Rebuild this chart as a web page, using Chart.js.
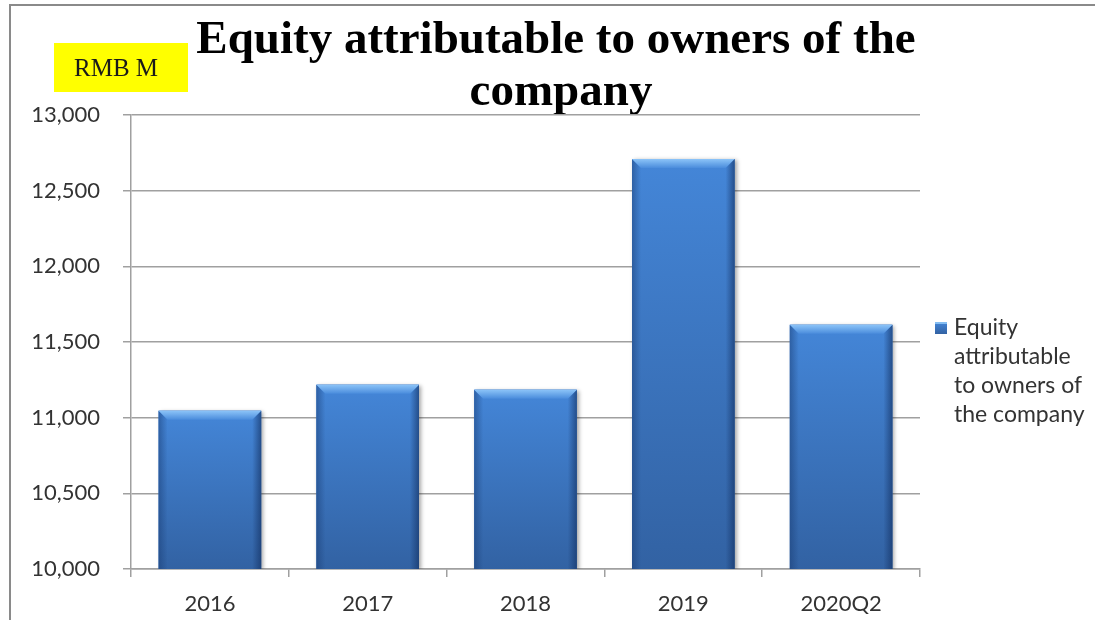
<!DOCTYPE html>
<html lang="en">
<head>
    <meta charset="UTF-8" />
    <title>Equity attributable to owners of the company</title>
    <script src="https://cdn.jsdelivr.net/npm/chart.js"></script>
    <style>
        html, body {
            margin: 0;
            padding: 0;
            background: #fff;
        }

        #wrap {
            width: 1095px;
            height: 620px;
        }
    </style>
</head>
<body>

    <div id="wrap">
        <canvas id="equityChart" width="1095" height="620"></canvas>
    </div>

    <script>
        // chart data
        const years = ['2016', '2017', '2018', '2019', '2020Q2'];
        const equity = [11046, 11218, 11185, 12709, 11614];
        const seriesName = 'Equity attributable to owners of the company';
        const titleLines = ['Equity attributable to owners of the', 'company'];
        const legendLines = ['Equity', 'attributable', 'to owners of', 'the company'];
        const unitLabel = 'RMB M';

        const labelFont = 'Lato, "Open Sans", sans-serif';

        // frame, title and unit badge
        const decorPlugin = {
            id: 'decor',
            beforeDraw(chart) {
                const ctx = chart.ctx;
                ctx.save();
                ctx.fillStyle = '#fff';
                ctx.fillRect(0, 0, chart.width, chart.height);

                ctx.strokeStyle = '#8a8a8a';
                ctx.lineWidth = 2;
                ctx.beginPath();
                ctx.moveTo(10, chart.height);
                ctx.lineTo(10, 5);
                ctx.lineTo(chart.width, 5);
                ctx.stroke();

                // unit badge
                ctx.fillStyle = '#ffff00';
                ctx.fillRect(54, 43, 134, 49);
                ctx.fillStyle = '#1a1a1a';
                ctx.font = '25px "Liberation Serif", "Times New Roman", serif';
                ctx.textAlign = 'center';
                ctx.textBaseline = 'alphabetic';
                ctx.fillText(unitLabel, 116, 76);

                // title
                ctx.fillStyle = '#000';
                ctx.font = 'bold 47px "Liberation Serif", "Times New Roman", serif';
                ctx.fillText(titleLines[0], 556, 53);
                ctx.fillText(titleLines[1], 561, 105);
                ctx.restore();
            }
        };

        function barFill(ctx, top, bottom) {
            const g = ctx.createLinearGradient(0, top, 0, bottom);
            g.addColorStop(0, '#4486d8');
            g.addColorStop(1, '#3262a3');
            return g;
        }

        // bevelled bar look, painted over each bar element
        const bevelPlugin = {
            id: 'bevel',
            afterDatasetsDraw(chart) {
                const ctx = chart.ctx;
                const area = chart.chartArea;
                const meta = chart.getDatasetMeta(0);
                meta.data.forEach(bar => {
                    const p = bar.getProps(['x', 'y', 'base', 'width'], true);
                    const l = p.x - p.width / 2;
                    const r = p.x + p.width / 2;
                    const t = Math.max(Math.min(p.y, p.base), area.top);
                    const b = Math.min(Math.max(p.y, p.base), area.bottom);
                    const w = r - l;
                    const h = b - t;
                    const bv = Math.min(9, h / 3);

                    ctx.save();
                    ctx.beginPath();
                    ctx.rect(area.left, area.top - 2, area.right - area.left, area.bottom - area.top + 2);
                    ctx.clip();

                    ctx.save();
                    ctx.shadowColor = 'rgba(0,0,0,0.35)';
                    ctx.shadowBlur = 4;
                    ctx.shadowOffsetX = 2;
                    ctx.shadowOffsetY = 1;
                    ctx.fillStyle = barFill(ctx, t, b);
                    ctx.fillRect(l, t, w, h);
                    ctx.restore();

                    // left edge
                    let g = ctx.createLinearGradient(l, 0, l + bv, 0);
                    g.addColorStop(0, 'rgba(25,60,115,0.5)');
                    g.addColorStop(1, 'rgba(25,60,115,0)');
                    ctx.fillStyle = g;
                    ctx.beginPath();
                    ctx.moveTo(l, t);
                    ctx.lineTo(l + bv, t + bv);
                    ctx.lineTo(l + bv, b);
                    ctx.lineTo(l, b);
                    ctx.closePath();
                    ctx.fill();

                    // right edge
                    g = ctx.createLinearGradient(r, 0, r - bv, 0);
                    g.addColorStop(0, 'rgba(20,50,100,0.65)');
                    g.addColorStop(1, 'rgba(20,50,100,0)');
                    ctx.fillStyle = g;
                    ctx.beginPath();
                    ctx.moveTo(r, t);
                    ctx.lineTo(r - bv, t + bv);
                    ctx.lineTo(r - bv, b);
                    ctx.lineTo(r, b);
                    ctx.closePath();
                    ctx.fill();

                    // top highlight
                    g = ctx.createLinearGradient(0, t, 0, t + bv);
                    g.addColorStop(0, '#8cc4f8');
                    g.addColorStop(1, '#4a8cdc');
                    ctx.fillStyle = g;
                    ctx.beginPath();
                    ctx.moveTo(l, t);
                    ctx.lineTo(r, t);
                    ctx.lineTo(r - bv, t + bv);
                    ctx.lineTo(l + bv, t + bv);
                    ctx.closePath();
                    ctx.fill();
                    ctx.restore();
                });
            }
        };

        // legend on the right with wrapped series name
        const sideLegendPlugin = {
            id: 'sideLegend',
            afterDraw(chart) {
                const ctx = chart.ctx;
                const x = chart.chartArea.right + 15;
                const y0 = 328;
                ctx.save();
                ctx.fillStyle = barFill(ctx, y0 - 6, y0 + 6);
                ctx.fillRect(x, y0 - 6, 12, 12);
                ctx.fillStyle = 'rgba(140,195,245,0.9)';
                ctx.fillRect(x, y0 - 6, 12, 2);
                ctx.fillStyle = '#333';
                ctx.font = '23px ' + labelFont;
                ctx.textAlign = 'left';
                ctx.textBaseline = 'middle';
                legendLines.forEach((line, i) => {
                    ctx.fillText(line, x + 19, y0 + i * 29);
                });
                ctx.restore();
            }
        };

        new Chart(document.getElementById('equityChart'), {
            type: 'bar',
            data: {
                labels: years,
                datasets: [{
                    label: seriesName,
                    data: equity,
                    backgroundColor: '#3d7acb',
                    borderWidth: 0,
                    barPercentage: 0.65,
                    categoryPercentage: 1
                }]
            },
            options: {
                responsive: false,
                animation: false,
                layout: {
                    padding: { top: 115, right: 175, bottom: 0, left: 0 }
                },
                plugins: {
                    legend: { display: false },
                    title: { display: false },
                    tooltip: { enabled: false }
                },
                scales: {
                    x: {
                        afterFit(scale) { scale.height = 51; },
                        grid: {
                            drawOnChartArea: false,
                            color: '#a0a0a0',
                            lineWidth: 1.5,
                            tickLength: 8,
                            offset: true
                        },
                        border: { color: '#a0a0a0', width: 1.5 },
                        ticks: {
                            color: '#333',
                            font: { family: labelFont, size: 22 },
                            padding: 14
                        }
                    },
                    y: {
                        min: 10000,
                        max: 13000,
                        afterFit(scale) { scale.width = 131; },
                        grid: {
                            color: '#a0a0a0',
                            lineWidth: 1.5,
                            tickLength: 8
                        },
                        border: { color: '#a0a0a0', width: 1.5 },
                        ticks: {
                            stepSize: 500,
                            color: '#333',
                            font: { family: labelFont, size: 22 },
                            padding: 23,
                            callback: v => v.toLocaleString('en-US')
                        }
                    }
                }
            },
            plugins: [decorPlugin, bevelPlugin, sideLegendPlugin]
        });
    </script>

</body>
</html>
